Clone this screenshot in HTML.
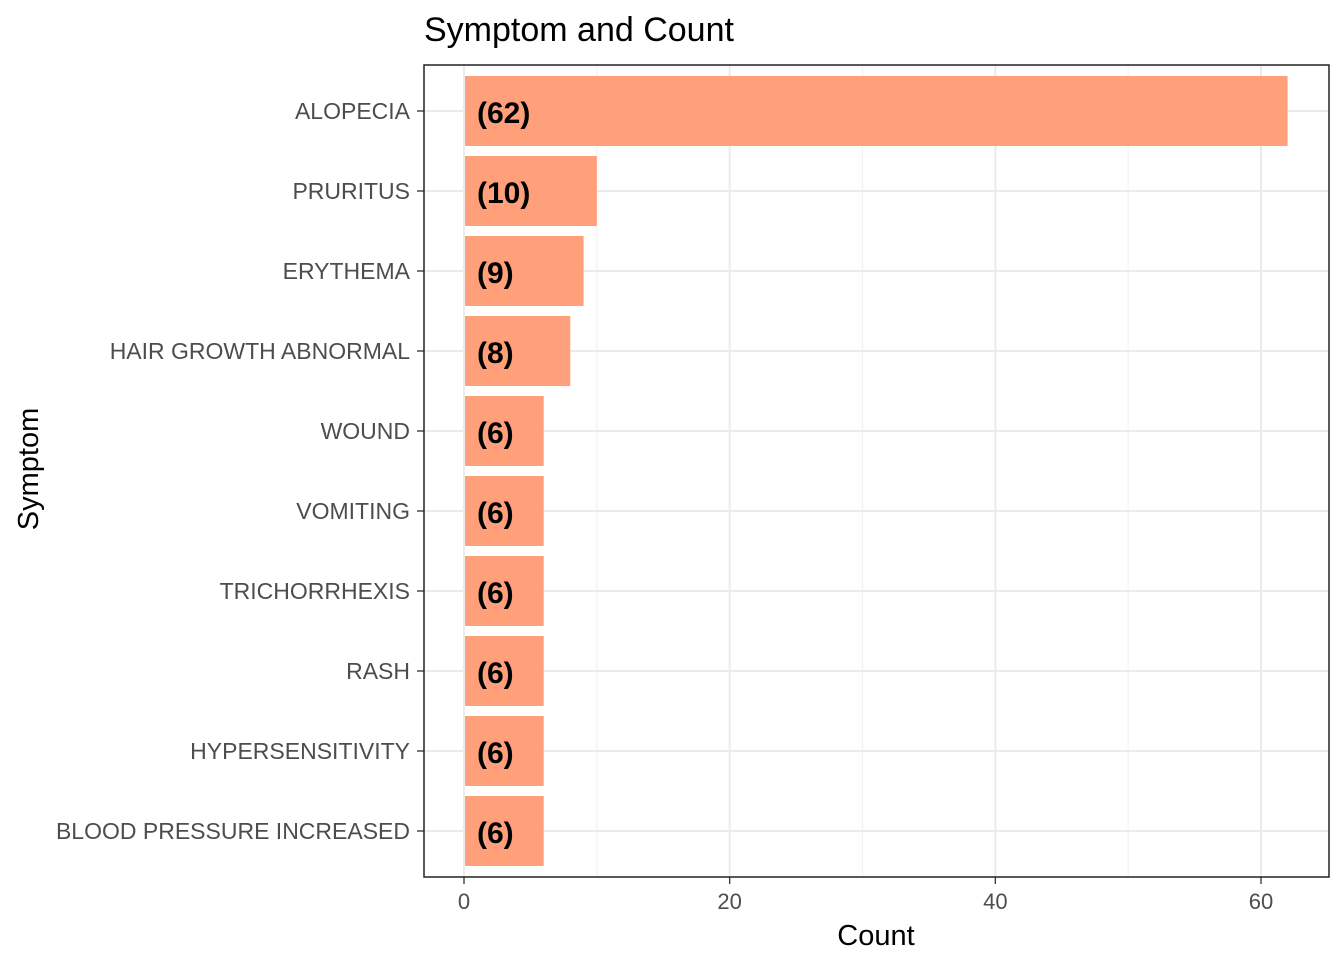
<!DOCTYPE html>
<html><head><meta charset="utf-8"><style>
html,body{margin:0;padding:0;background:#fff}
svg{display:block;font-family:"Liberation Sans",Arial,sans-serif}
</style></head><body>
<svg id="chart" width="1344" height="960" viewBox="0 0 1344 960" xmlns="http://www.w3.org/2000/svg">
<rect width="1344" height="960" fill="#fff"/>
<text x="424" y="41" font-size="34" fill="#000">Symptom and Count</text>
<g id="grid"></g>
<g id="bars"></g>
<g id="axes"></g>
<rect x="424" y="65" width="905" height="812" fill="none" stroke="#222" stroke-width="1.5"/>
<text x="876" y="945" font-size="29" text-anchor="middle" fill="#000">Count</text>
<text x="0" y="0" font-size="29" text-anchor="middle" fill="#000" transform="translate(38,469) rotate(-90)">Symptom</text>
</svg>
<script>
const categories = ["ALOPECIA","PRURITUS","ERYTHEMA","HAIR GROWTH ABNORMAL","WOUND","VOMITING","TRICHORRHEXIS","RASH","HYPERSENSITIVITY","BLOOD PRESSURE INCREASED"];
const counts = [62,10,9,8,6,6,6,6,6,6];
const xTicks = [0,20,40,60];

const NS="http://www.w3.org/2000/svg";
const x0=464, pxPerUnit=(1261-464)/60;
const xs=v=>x0+v*pxPerUnit;
const yTop=111, step=80, barH=70;
const ys=i=>yTop+i*step;
function mk(tag,attrs,parent,text){const e=document.createElementNS(NS,tag);for(const k in attrs)e.setAttribute(k,attrs[k]);if(text!==undefined)e.textContent=text;parent.appendChild(e);return e;}
const grid=document.getElementById('grid'),bars=document.getElementById('bars'),axes=document.getElementById('axes');
for(let i=0;i<xTicks.length-1;i++){const m=(xTicks[i]+xTicks[i+1])/2;
 const l=mk('line',{x1:xs(m),x2:xs(m),y1:65,y2:877,stroke:'#f2f2f2','stroke-width':1.2},grid);
 }
xTicks.forEach(t=>{
 const l=mk('line',{x1:xs(t),x2:xs(t),y1:65,y2:877,stroke:'#ebebeb','stroke-width':2},grid);
 
 const tk=mk('line',{x1:xs(t),x2:xs(t),y1:877,y2:884,stroke:'#333','stroke-width':1.3},axes);
 
 const tx=mk('text',{x:xs(t),y:909,'font-size':22,'text-anchor':'middle',fill:'#4d4d4d'},axes,String(t));
 
});
categories.forEach((c,i)=>{
 const y=ys(i);
 const g=mk('line',{x1:424,x2:1329,y1:y,y2:y,stroke:'#ebebeb','stroke-width':2},grid);
 
 const r=mk('rect',{x:xs(0)+1,y:y-barH/2,width:xs(counts[i])-xs(0)-1,height:barH,fill:'#FFA07A'},bars);
 
 const lb=mk('text',{x:xs(0)+13,y:y+12,'font-size':30,'font-weight':'bold',fill:'#000'},bars,'('+counts[i]+')');
 
 const tk=mk('line',{x1:417,x2:424,y1:y,y2:y,stroke:'#333','stroke-width':1.3},axes);
 
 const tx=mk('text',{x:410,y:y+8,'font-size':23,'text-anchor':'end',fill:'#4d4d4d'},axes,c);
 
});
</script>
</body></html>
